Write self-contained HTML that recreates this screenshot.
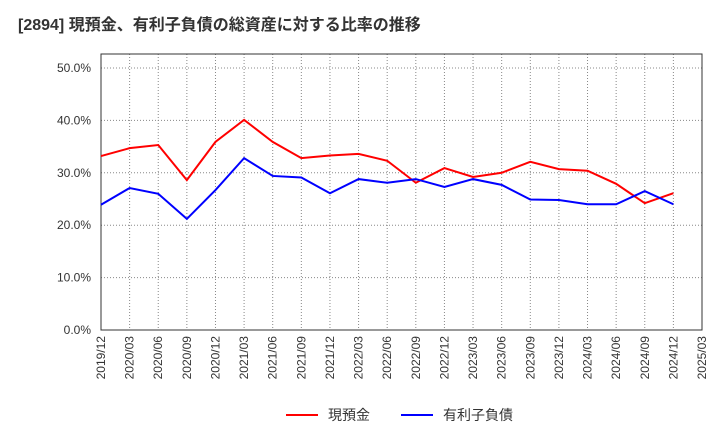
<!DOCTYPE html>
<html><head><meta charset="utf-8"><style>
body{margin:0;background:#fff;}
svg text{font-family:"Liberation Sans","Noto Sans CJK JP",sans-serif;}
</style></head><body>
<svg id="chart" width="720" height="440" xmlns="http://www.w3.org/2000/svg">
<text x="18" y="30" font-size="16" font-weight="bold" fill="#333">[2894]  現預金、有利子負債の総資産に対する比率の推移</text>
<g id="grid"></g>
<rect x="101" y="54" width="601" height="276" fill="none" stroke="#333" stroke-width="1"/>
<g id="yticks"></g><g id="xticks"></g><g id="series"></g>
<g>
<line x1="286" y1="415" x2="318" y2="415" stroke="#f00" stroke-width="2"/>
<text x="328" y="420" font-size="14" fill="#333">現預金</text>
<line x1="401" y1="415" x2="433" y2="415" stroke="#00f" stroke-width="2"/>
<text x="443" y="420" font-size="14" fill="#333">有利子負債</text>
</g>
</svg>
<script>
const categories=["2019/12","2020/03","2020/06","2020/09","2020/12","2021/03","2021/06","2021/09","2021/12","2022/03","2022/06","2022/09","2022/12","2023/03","2023/06","2023/09","2023/12","2024/03","2024/06","2024/09","2024/12","2025/03"];
const cash=[33.2,34.7,35.3,28.6,35.9,40.1,35.9,32.8,33.3,33.6,32.3,28.1,30.9,29.2,30.0,32.1,30.7,30.4,27.9,24.2,26.1];
const debt=[23.9,27.1,26.0,21.2,26.7,32.8,29.4,29.1,26.1,28.8,28.1,28.8,27.3,28.8,27.7,24.9,24.8,24.0,24.0,26.5,24.0];
const yTicks=[0,10,20,30,40,50];
const NS="http://www.w3.org/2000/svg";
const X0=101,X1=702,Y0=330,PER=5.24;
const xs=i=>X0+i*(X1-X0)/(categories.length-1);
const ys=v=>Y0-v*PER;
function mk(tag,attrs,parent){const e=document.createElementNS(NS,tag);for(const k in attrs)e.setAttribute(k,attrs[k]);document.getElementById(parent).appendChild(e);return e;}
for(let i=1;i<categories.length-1;i++){
 const l=mk('line',{x1:xs(i),x2:xs(i),y1:54,y2:330,stroke:'#888','stroke-dasharray':'1,2'},'grid');
 
 
}
for(const v of yTicks){
 if(v>0){const l=mk('line',{x1:X0,x2:X1,y1:ys(v),y2:ys(v),stroke:'#888','stroke-dasharray':'1,2'},'grid');
 
 }
 const t=mk('text',{x:91,y:ys(v)+4,'font-size':12,fill:'#333','text-anchor':'end'},'yticks');
 t.textContent=v.toFixed(1)+'%';
 
 
}
categories.forEach((c,i)=>{
 const t=mk('text',{x:0,y:0,'font-size':12,fill:'#333','text-anchor':'end',transform:`translate(${xs(i)+4},336) rotate(-90)`},'xticks');
 t.textContent=c;
 
 
});
function line(arr,color,name){
 const p=mk('polyline',{points:arr.map((v,i)=>xs(i)+','+ys(v)).join(' '),fill:'none',stroke:color,'stroke-width':2},'series');
 
 
}
line(cash,'#f00','cash-line');
line(debt,'#00f','debt-line');
</script>
</body></html>
